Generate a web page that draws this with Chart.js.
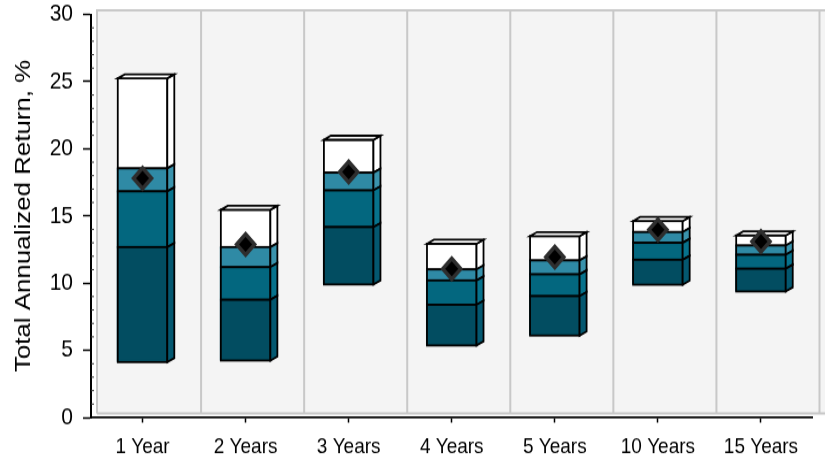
<!DOCTYPE html>
<html><head><meta charset="utf-8">
<script src="https://cdn.jsdelivr.net/npm/chart.js@4/dist/chart.umd.min.js"></script>
<style>
html,body{margin:0;padding:0;background:#fff;overflow:hidden;}
#c{display:block;width:825px!important;height:460px!important;}
</style></head><body>
<canvas id="c" width="825" height="400"></canvas>
<script>
const categories = ['1 Year','2 Years','3 Years','4 Years','5 Years','10 Years','15 Years'];
const rangeLow  = [4.12, 4.24, 9.90, 5.36, 6.10, 9.88, 9.38];
const lowerQ    = [12.68, 8.76, 14.17, 8.39, 9.03, 11.74, 11.07];
const midQ      = [16.83, 11.19, 16.90, 10.20, 10.65, 13.00, 12.11];
const upperQ    = [18.54, 12.68, 18.22, 11.02, 11.69, 13.80, 12.80];
const rangeHigh = [25.24, 15.46, 20.67, 12.93, 13.50, 14.62, 13.55];
const marker    = [17.80, 12.88, 18.27, 11.07, 11.94, 13.97, 13.10];
const yTicks = [0, 5, 10, 15, 20, 25, 30];
const yMinorTicks = [1,2,3,4,6,7,8,9,11,12,13,14,16,17,18,19,21,22,23,24,26,27,28,29];

const pairs = (lo, hi) => lo.map((v, i) => [v, hi[i]]);
const DX = 7, DY = 3.5;
const FONT = "'Liberation Sans', Arial, sans-serif";

const wallPlugin = {
  id: 'wall',
  beforeDraw(chart) {
    const {ctx, chartArea: a} = chart;
    ctx.save();
    const L = a.left + 6, T = a.top - DY, B = a.bottom - DY, R = chart.width + 30;
    ctx.fillStyle = '#f4f4f4';
    ctx.fillRect(L, T, R - L, B - T);
    ctx.strokeStyle = '#c8c8c8';
    ctx.lineWidth = 2;
    ctx.beginPath();
    ctx.moveTo(L, B); ctx.lineTo(L, T); ctx.lineTo(R, T);
    ctx.moveTo(L, B); ctx.lineTo(R, B);
    const w = (a.right - a.left) / categories.length;
    for (let k = 1; k <= categories.length; k++) {
      const xx = a.left + k * w + DX;
      ctx.moveTo(xx, T); ctx.lineTo(xx, B);
    }
    ctx.stroke();
    ctx.restore();
  },
  afterDraw(chart) {
    const {ctx, scales: {y}} = chart;
    ctx.save();
    ctx.strokeStyle = '#333';
    ctx.lineWidth = 1;
    ctx.beginPath();
    yMinorTicks.forEach(v => {
      const py = y.getPixelForValue(v);
      ctx.moveTo(y.right, py); ctx.lineTo(y.right + 3, py);
    });
    ctx.stroke();
    ctx.restore();
  }
};

const bar3d = {
  id: 'bar3d',
  afterDatasetDraw(chart, args) {
    const ds = chart.data.datasets[args.index];
    if (!ds.sideColor) return;
    const ctx = chart.ctx;
    ctx.save();
    ctx.lineWidth = 1.8;
    ctx.strokeStyle = '#000';
    ctx.lineJoin = 'miter';
    args.meta.data.forEach(el => {
      const {x, y, base, width} = el.getProps(['x', 'y', 'base', 'width'], true);
      const l = x - width / 2 + 1, r = x + width / 2 - 1;
      const top = Math.min(y, base), bot = Math.max(y, base);
      ctx.strokeRect(l, top, r - l, bot - top);
      ctx.fillStyle = ds.sideColor;
      ctx.beginPath();
      ctx.moveTo(r, top); ctx.lineTo(r + DX, top - DY); ctx.lineTo(r + DX, bot - DY); ctx.lineTo(r, bot); ctx.closePath();
      ctx.fill(); ctx.stroke();
      if (ds.capTop) {
        ctx.fillStyle = ds.topColor;
        ctx.beginPath();
        ctx.moveTo(l, top); ctx.lineTo(l + DX, top - DY); ctx.lineTo(r + DX, top - DY); ctx.lineTo(r, top); ctx.closePath();
        ctx.fill(); ctx.stroke();
      }
    });
    ctx.restore();
  }
};

const barCommon = {
  type: 'bar', order: 1, borderWidth: 0,
  categoryPercentage: 1, barPercentage: 0.5
};

new Chart(document.getElementById('c'), {
  type: 'bar',
  data: {
    labels: categories,
    datasets: [
      { type: 'line', order: 0, data: marker, showLine: false, pointStyle: 'rectRot',
        pointRadius: 9, pointHoverRadius: 9, pointBackgroundColor: '#000', pointBorderColor: '#2e2e2e', pointBorderWidth: 3.5 },
      Object.assign({ data: pairs(rangeLow, lowerQ), backgroundColor: '#024d61', sideColor: '#045870' }, barCommon),
      Object.assign({ data: pairs(lowerQ, midQ), backgroundColor: '#03677f', sideColor: '#07728c' }, barCommon),
      Object.assign({ data: pairs(midQ, upperQ), backgroundColor: '#2f8aa5', sideColor: '#3a93ad' }, barCommon),
      Object.assign({ data: pairs(upperQ, rangeHigh), backgroundColor: '#ffffff', sideColor: '#ffffff', capTop: true, topColor: '#ffffff' }, barCommon)
    ]
  },
  options: {
    responsive: false,
    devicePixelRatio: 1,
    animation: false,
    events: [],
    layout: { padding: { top: 12, left: 0, right: 0, bottom: 0 } },
    plugins: { legend: { display: false }, tooltip: { enabled: false } },
    scales: {
      x: {
        stacked: true,
        offset: true,
        grid: { offset: false, drawOnChartArea: false, drawTicks: true, tickLength: 4.5, tickColor: '#000', tickWidth: 1.5 },
        border: { color: '#000', width: 1.8 },
        ticks: { color: '#000', font: { family: FONT, size: 19 }, padding: 9.5, maxRotation: 0, autoSkip: false },
        afterFit: s => { s.height = 37; s.paddingLeft = 0; s.paddingRight = 0; }
      },
      y: {
        stacked: false,
        min: 0, max: 30,
        afterBuildTicks: s => { s.ticks = yTicks.map(v => ({ value: v })); },
        grid: { drawOnChartArea: false, drawTicks: true, tickLength: 8, tickColor: '#000', tickWidth: 1.5 },
        border: { color: '#000', width: 2 },
        ticks: { color: '#000', font: { family: FONT, size: 21 }, padding: 10 },
        title: { display: true, text: 'Total Annualized Return, %', color: '#000', font: { family: FONT, size: 22.5 }, padding: { top: 10, bottom: 0 } },
        afterFit: s => { s.width = 91; s.paddingTop = 0; s.paddingBottom = 0; }
      }
    }
  },
  plugins: [wallPlugin, bar3d]
});
</script>
</body></html>
